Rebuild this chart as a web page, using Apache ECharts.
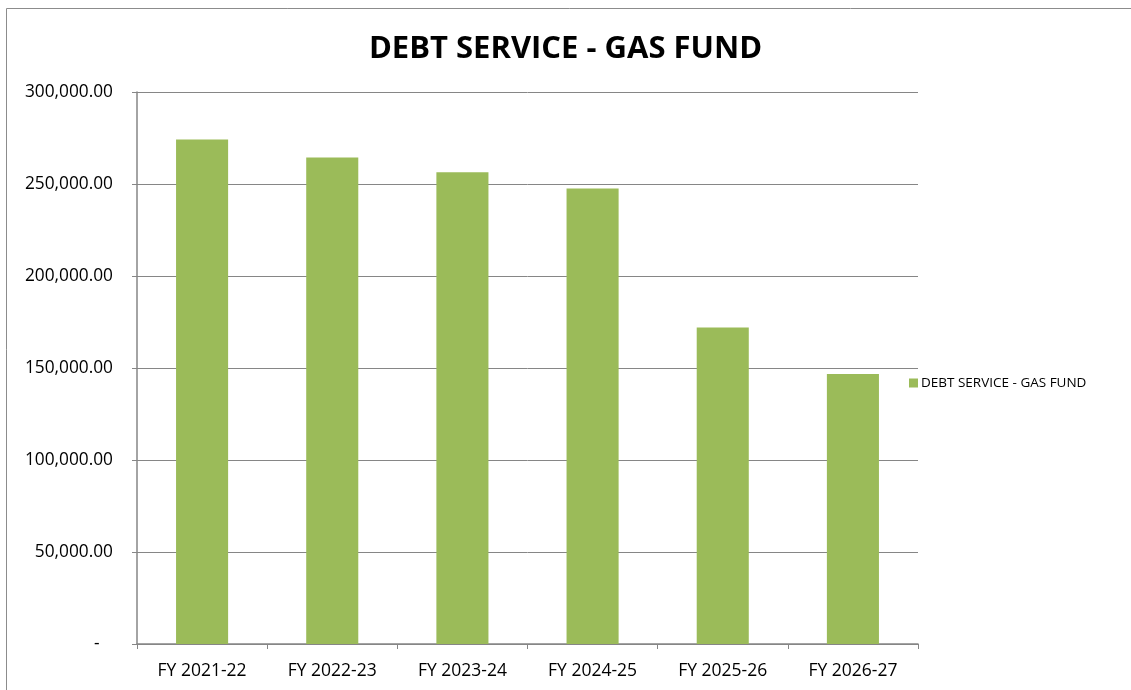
<!DOCTYPE html>
<html>
<head>
<meta charset="utf-8">
<script src="https://cdn.jsdelivr.net/npm/echarts@6/dist/echarts.min.js"></script>
<style>
  html, body { margin: 0; padding: 0; background: #fff; }
  #chart { width: 1131px; height: 690px; }
</style>
</head>
<body>
<div id="chart"></div>
<script>
  let categories = ['FY 2021-22', 'FY 2022-23', 'FY 2023-24', 'FY 2024-25', 'FY 2025-26', 'FY 2026-27'];
  let debtService = [274200, 264400, 256400, 247500, 172000, 146800];
  let seriesName = 'DEBT SERVICE - GAS FUND';

  let myChart = echarts.init(document.getElementById('chart'));
  let font = '"Open Sans", sans-serif';

  let fmt = function (v) {
    if (v === 0) return '-   ';
    return v.toLocaleString('en-US', { minimumFractionDigits: 2, maximumFractionDigits: 2 });
  };

  let option = {
    animation: false,
    title: {
      text: 'DEBT SERVICE - GAS FUND',
      left: 'center',
      top: 29,
      textStyle: { fontFamily: font, fontSize: 31, fontWeight: 'bold', color: '#000' }
    },
    legend: {
      data: [seriesName],
      left: 904,
      top: 371,
      itemWidth: 9,
      itemHeight: 9,
      itemGap: 4,
      icon: 'rect',
      textStyle: { fontFamily: font, fontSize: 13.5, color: '#000', padding: [0, 0, 0, -2] }
    },
    graphic: [{
      type: 'rect',
      shape: { x: 6.5, y: 8.5, width: 1140, height: 700 },
      style: { fill: 'none', stroke: '#8c8c8c', lineWidth: 1 },
      silent: true
    }],
    grid: { left: 137, right: 213, top: 92, bottom: 46 },
    xAxis: {
      type: 'category',
      data: categories,
      axisLine: { lineStyle: { color: '#868686', width: 1.5 } },
      axisTick: { show: true, length: 5, lineStyle: { color: '#868686' } },
      axisLabel: { fontFamily: font, fontSize: 17.5, color: '#000', margin: 18 }
    },
    yAxis: {
      type: 'value',
      min: 0,
      max: 300000,
      interval: 50000,
      axisLine: { show: true, lineStyle: { color: '#868686', width: 1.5 } },
      axisTick: { show: true, length: 5, lineStyle: { color: '#868686' } },
      splitLine: { lineStyle: { color: '#868686', width: 1 } },
      axisLabel: { fontFamily: font, fontSize: 17.3, color: '#000', margin: 24, formatter: fmt }
    },
    series: [{
      name: seriesName,
      type: 'bar',
      data: debtService,
      barWidth: '40%',
      itemStyle: { color: '#9BBB59' }
    }]
  };
  myChart.setOption(option);
</script>
</body>
</html>
